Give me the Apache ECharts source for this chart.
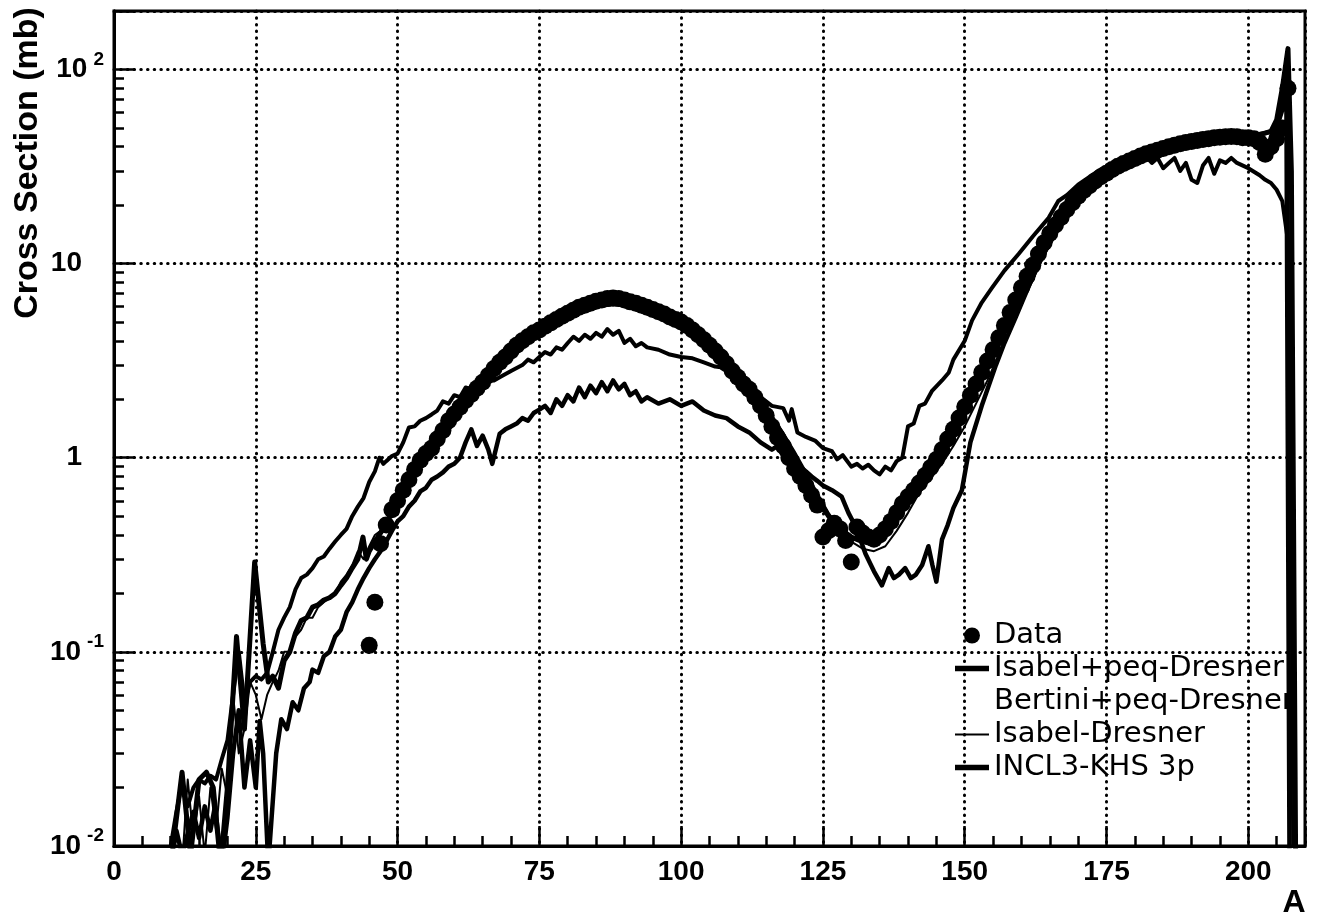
<!DOCTYPE html>
<html><head><meta charset="utf-8">
<script src="https://cdn.jsdelivr.net/npm/echarts@6/dist/echarts.min.js"></script>
<style>html,body{margin:0;padding:0;background:#fff}#c{width:1337px;height:919px}</style>
</head><body><div id="c"></div>
<script>
// ---- data (A, cross section in mb) ----
const seriesNames = ['Data', 'Isabel+peq-Dresner', 'Bertini+peq-Dresner', 'Isabel-Dresner', 'INCL3-KHS 3p'];

const measured = [[45,0.108],[46,0.18],[47,0.36],[48,0.45],[49,0.54],[50,0.6],[51,0.68],[52,0.77],[53,0.87],[54,0.97],[55,1.05],[56,1.12],[57,1.25],[58,1.38],[59,1.55],[60,1.68],[61,1.82],[62,1.97],[63,2.12],[64,2.28],[65,2.45],[66,2.65],[67,2.88],[68,3.1],[69,3.3],[70,3.55],[71,3.8],[72,4.0],[73,4.2],[74,4.4],[75,4.55],[76,4.75],[77,4.95],[78,5.15],[79,5.35],[80,5.55],[81,5.75],[82,5.95],[83,6.1],[84,6.25],[85,6.4],[86,6.5],[87,6.6],[88,6.65],[89,6.6],[90,6.5],[91,6.35],[92,6.25],[93,6.1],[94,5.95],[95,5.8],[96,5.65],[97,5.5],[98,5.3],[99,5.15],[100,5.0],[101,4.8],[102,4.55],[103,4.3],[104,4.05],[105,3.8],[106,3.55],[107,3.3],[108,3.05],[109,2.8],[110,2.6],[111,2.4],[112,2.25],[113,2.05],[114,1.85],[115,1.65],[116,1.45],[117,1.27],[118,1.15],[119,1.0],[120,0.88],[121,0.8],[122,0.72],[123,0.64],[124,0.57],[125,0.39],[126,0.42],[127,0.46],[128,0.43],[129,0.375],[130,0.29],[131,0.44],[132,0.41],[133,0.39],[134,0.38],[135,0.4],[136,0.43],[137,0.47],[138,0.52],[139,0.58],[140,0.63],[141,0.68],[142,0.74],[143,0.81],[144,0.89],[145,0.98],[146,1.1],[147,1.25],[148,1.4],[149,1.6],[150,1.83],[151,2.1],[152,2.4],[153,2.75],[154,3.15],[155,3.6],[156,4.15],[157,4.8],[158,5.6],[159,6.5],[160,7.5],[161,8.6],[162,9.8],[163,11.2],[164,12.8],[165,14.3],[166,15.8],[167,17.3],[168,19],[169,20.6],[170,22.2],[171,23.8],[172,25.2],[173,26.6],[174,28],[175,29.2],[176,30.5],[177,31.7],[178,32.8],[179,33.8],[180,34.8],[181,35.8],[182,36.8],[183,37.6],[184,38.4],[185,39.2],[186,40],[187,40.7],[188,41.4],[189,42],[190,42.6],[191,43.1],[192,43.6],[193,44],[194,44.5],[195,44.8],[196,45],[197,45.2],[198,45],[199,44.5],[200,44.5],[201,44],[202,42],[203,36.6],[204,40],[205,44],[206,50],[207,80]];

const isabelPeq = [[10,0.008],[12,0.024],[13.5,0.009],[15,0.022],[16.3,0.024],[17.5,0.02],[18.8,0.008],[20,0.02],[21.6,0.12],[23,0.04],[24.8,0.29],[26.3,0.11],[27.2,0.07],[28,0.075],[29,0.065],[30,0.09],[31,0.1],[32,0.125],[33,0.145],[34,0.15],[35,0.17],[36,0.175],[37,0.185],[38,0.19],[39,0.2],[40,0.22],[41,0.24],[42,0.27],[43,0.3],[43.9,0.39],[44.5,0.3],[45,0.33],[46,0.37],[47,0.41],[48,0.46],[49,0.52],[50,0.58],[51,0.66],[52,0.76],[53,0.84],[54,0.92],[55,1.0],[56,1.08],[57,1.2],[58,1.35],[59,1.48],[60,1.62],[62,1.95],[64,2.3],[66,2.7],[68,3.1],[70,3.55],[72,4.0],[74,4.45],[76,4.85],[78,5.25],[80,5.65],[82,6.05],[84,6.4],[86,6.7],[88,6.85],[90,6.8],[92,6.55],[94,6.2],[96,5.85],[98,5.45],[100,5.1],[102,4.65],[104,4.15],[106,3.65],[108,3.2],[110,2.75],[112,2.35],[114,1.95],[116,1.6],[118,1.3],[120,1.02],[122,0.8],[124,0.62],[126,0.5],[128,0.43],[130,0.39],[132,0.37],[134,0.37],[136,0.41],[138,0.49],[140,0.59],[142,0.71],[144,0.86],[146,1.05],[148,1.3],[150,1.68],[152,2.2],[154,2.9],[156,3.9],[158,5.1],[160,6.7],[162,8.8],[164,11.4],[166,14.5],[168,18],[170,21.6],[172,24.9],[174,27.9],[176,30.6],[178,32.9],[180,34.9],[182,36.7],[184,38.3],[186,39.8],[188,41.1],[190,42.3],[192,43.3],[194,44.1],[196,44.8],[198,45.3],[200,45.6],[202,46.2],[204,48],[205,55],[206,80],[207,128],[207.6,30],[208.4,0.005]];

const bertiniPeq = [[9,0.008],[10,0.01],[11,0.015],[12,0.021],[13,0.016],[14,0.02],[15,0.022],[16,0.021],[17,0.023],[18,0.022],[19,0.028],[20,0.035],[21,0.06],[22,0.1],[23,0.055],[24,0.07],[25,0.075],[26,0.072],[27,0.078],[28,0.1],[29,0.13],[30,0.15],[31,0.17],[32,0.21],[33,0.24],[34,0.25],[35,0.27],[36,0.3],[37,0.31],[38,0.34],[39,0.37],[40,0.4],[41,0.43],[42,0.5],[43,0.56],[44,0.62],[45,0.75],[46,0.85],[46.8,1.0],[47.5,0.93],[48,0.96],[49,1.02],[50,1.05],[51,1.2],[52,1.43],[53,1.45],[54,1.55],[55,1.6],[56,1.67],[57,1.75],[58,1.95],[59,1.9],[60,2.1],[61,2.05],[62,2.3],[63,2.25],[64,2.45],[65,2.4],[66,2.55],[67,2.5],[68,2.6],[70,2.8],[72,3.0],[73,3.2],[74,3.1],[75,3.3],[76,3.5],[77,3.4],[78,3.7],[79,3.6],[80,3.9],[81,4.2],[82,4.0],[83,4.3],[84,4.1],[85,4.4],[86,4.2],[87,4.6],[88,4.3],[89,4.5],[90,3.9],[91,4.1],[92,3.75],[93,3.9],[94,3.7],[96,3.6],[98,3.4],[100,3.3],[102,3.25],[104,3.1],[106,2.95],[108,2.9],[110,2.7],[112,2.3],[114,2.05],[116,1.85],[118,1.8],[119,1.55],[119.5,1.78],[120.5,1.35],[122,1.28],[123.7,1.22],[125,1.12],[126.6,1.08],[127.5,0.98],[128.5,1.03],[130,0.9],[131,0.93],[132,0.88],[133,0.92],[134,0.86],[135,0.82],[136,0.9],[137,0.86],[138,0.96],[139,1.0],[140,1.45],[141,1.5],[142,1.85],[143,1.9],[144.2,2.2],[146,2.5],[147.2,2.75],[148,3.2],[150,4.0],[151.3,5.1],[153,6.3],[154.8,7.5],[157,9.2],[159.5,11.2],[162,13.8],[164.8,17.2],[166.5,21],[168,22.5],[170,25.5],[172,28],[174,30.5],[176,32.5],[178,34],[180,35],[182,35.5],[183,33],[184,35],[185,31],[186,33],[187,35],[188,30],[189,33],[190,27],[191,26],[192,32],[193,35],[194,29],[195,34],[196,33],[197,35],[198,33],[200,31],[202,28.5],[203,27],[204,26],[205,24],[206,21],[207,13],[208.3,0.005]];

const isabelDresner = [[12,0.008],[13,0.022],[14,0.011],[15,0.018],[16,0.009],[17,0.02],[18,0.012],[19,0.025],[20,0.018],[21,0.06],[22,0.03],[23,0.04],[24,0.07],[25,0.06],[26,0.045],[27,0.06],[28,0.07],[29,0.08],[30,0.1],[31,0.1],[32,0.12],[33,0.13],[34,0.15],[35,0.15],[36,0.17],[37,0.18],[38,0.19],[39,0.2],[40,0.23],[41,0.25],[42,0.28],[43,0.33],[44,0.3],[45,0.35],[46,0.4],[47,0.42],[48,0.46],[50,0.56],[52,0.72],[54,0.9],[56,1.02],[58,1.25],[60,1.5],[62,1.8],[64,2.2],[66,2.6],[68,3.0],[70,3.45],[72,3.9],[74,4.3],[76,4.6],[78,4.9],[80,5.2],[82,5.55],[84,5.8],[86,6.0],[88,6.1],[90,6.05],[92,5.9],[94,5.7],[96,5.5],[98,5.2],[100,4.9],[102,4.5],[104,4.05],[106,3.65],[108,3.2],[110,2.8],[112,2.4],[114,2.0],[116,1.65],[118,1.35],[120,1.08],[122,0.85],[124,0.66],[126,0.52],[128,0.43],[130,0.37],[132,0.34],[134,0.33],[136,0.35],[138,0.42],[140,0.52],[142,0.66],[144,0.78],[146,0.93],[148,1.15],[150,1.45],[152,1.9],[154,2.5],[156,3.4],[158,4.6],[160,6.2],[162,8.2],[164,11],[166,14],[168,17.5],[170,21],[172,24.5],[174,27.5],[176,30],[178,32.3],[180,34.3],[182,36],[184,37.5],[186,39],[188,40.2],[190,41.5],[192,42.5],[194,43.3],[196,44],[198,44],[200,43],[201,41],[202,38],[203,35],[204,37],[205,43],[206,70],[207,110],[207.8,0.005]];

const inclKhs = [[10,0.008],[11,0.012],[12,0.009],[14,0.015],[15,0.011],[16,0.016],[17,0.012],[17.8,0.016],[19,0.008],[20,0.014],[21,0.03],[22,0.05],[23,0.02],[24,0.035],[25,0.02],[25.7,0.044],[26.3,0.03],[27.2,0.008],[28.6,0.03],[29.5,0.045],[30.5,0.04],[31.5,0.055],[32.5,0.05],[33.5,0.065],[34.5,0.07],[35,0.081],[36,0.078],[37,0.095],[38,0.1],[39,0.12],[40,0.13],[41,0.16],[42,0.18],[43,0.21],[44,0.24],[45,0.27],[46,0.3],[47,0.33],[48,0.37],[49,0.42],[50,0.47],[51,0.5],[52,0.56],[53,0.6],[54,0.67],[55,0.7],[56,0.77],[57,0.8],[58,0.84],[59,0.9],[60,0.93],[61,1.0],[62,1.2],[63,1.4],[64,1.15],[65,1.3],[66,1.1],[66.7,0.93],[68,1.33],[69,1.4],[70,1.45],[71,1.5],[72,1.6],[73,1.55],[74,1.7],[75,1.77],[76,1.85],[77,1.7],[78,2.0],[79,1.85],[80,2.1],[81,1.95],[82,2.3],[83,2.05],[84,2.35],[85,2.15],[86,2.45],[87,2.2],[88,2.5],[89,2.25],[90,2.4],[91,2.1],[92,2.2],[93,1.95],[94,2.05],[96,1.9],[98,2.0],[100,1.85],[102,1.95],[104,1.75],[106,1.65],[108,1.6],[110,1.45],[112,1.35],[114,1.2],[116,1.1],[117,1.15],[118,1.02],[119,1.05],[120,0.95],[121,0.9],[122,0.85],[123,0.8],[124,0.76],[125,0.72],[126.6,0.68],[128.3,0.63],[129.5,0.52],[130.8,0.44],[132.5,0.32],[134,0.26],[135.4,0.22],[136.6,0.27],[137.5,0.24],[138.4,0.25],[139.5,0.27],[140.5,0.24],[141.4,0.25],[142.5,0.28],[143.6,0.35],[144.3,0.28],[145,0.23],[146,0.38],[147,0.45],[148,0.55],[149.5,0.68],[151,1.2],[153,1.85],[155.5,3.0],[157,3.9],[159,5.3],[161,7.3],[163,10],[165,13],[167,16.5],[169,20],[171,23.5],[173,26.5],[175,29],[177,31],[179,32.8],[181,34.5],[183,36.5],[185,38.5],[187,40],[189,41.5],[191,42.5],[193,43.5],[195,44.5],[197,45.2],[199,45.6],[201,46],[203,47],[204,48],[205,50],[206,62],[206.7,95],[207.3,0.005]];

// ---- axis ticks ----
const xMajorStep = 25;
const xMinorTicks = [5,10,15,20,30,35,40,45,55,60,65,70,80,85,90,95,105,110,115,120,130,135,140,145,155,160,165,170,180,185,190,195,205];
const yMinorTicks = [0.02,0.03,0.04,0.05,0.06,0.07,0.08,0.09,0.2,0.3,0.4,0.5,0.6,0.7,0.8,0.9,2,3,4,5,6,7,8,9,20,30,40,50,60,70,80,90];

const FONT = '"Liberation Sans", Arial, sans-serif';
const chart = echarts.init(document.getElementById('c'));
const dotted = { color: '#000', width: 3, type: [0.5, 6.2], cap: 'round' };
const tk = { color: '#000', width: 2.5 };

function lineSeries(name, data, width) {
  return { name, type: 'line', data, showSymbol: false, symbol: 'none', clip: true, progressive: 0,
    lineStyle: { color: '#000', width, join: 'round', cap: 'round' }, itemStyle: { color: '#000' }, z: 3 };
}

chart.setOption({
  animation: false,
  backgroundColor: '#fff',
  grid: { left: 114, right: 32, top: 11, bottom: 73, show: true, borderColor: '#000', borderWidth: 3 },
  xAxis: [{
    type: 'value', min: 0, max: 210, interval: xMajorStep, position: 'bottom', z: 5,
    axisLine: { lineStyle: { color: '#000', width: 3 } },
    axisTick: { show: true, inside: true, length: 20, lineStyle: tk },
    axisLabel: { margin: 12, color: '#000', fontFamily: FONT, fontWeight: 'bold', fontSize: 28,
      formatter: v => (v % xMajorStep === 0 ? String(v) : '') },
    splitLine: { show: true, lineStyle: dotted }
  }, {
    type: 'value', min: 0, max: 210, position: 'bottom', z: 5,
    axisLine: { show: false }, axisLabel: { show: false }, splitLine: { show: false },
    axisTick: { show: true, inside: true, length: 10, customValues: xMinorTicks, lineStyle: tk }
  }],
  yAxis: [{
    type: 'log', logBase: 10, min: 0.01, max: 200, position: 'left', z: 5,
    axisLine: { lineStyle: { color: '#000', width: 3 } },
    axisTick: { show: true, inside: true, length: 20, lineStyle: tk },
    axisLabel: {
      margin: 10, color: '#000',
      formatter: function (v) {
        const l = Math.log10(v), e = Math.round(l);
        if (Math.abs(l - e) > 1e-6) return '';
        if (e === 0) return '{p|1}';
        if (e === 1) return '{p|10}';
        return '{b|10}{s|' + e + '}';
      },
      rich: {
        p: { fontFamily: FONT, fontWeight: 'bold', fontSize: 28, color: '#000', padding: [0, 22, 0, 0] },
        b: { fontFamily: FONT, fontWeight: 'bold', fontSize: 28, color: '#000' },
        s: { fontFamily: FONT, fontWeight: 'bold', fontSize: 19, color: '#000', padding: [0, 0, 20, 6] }
      }
    },
    splitLine: { show: true, lineStyle: dotted }
  }, {
    type: 'log', logBase: 10, min: 0.01, max: 200, position: 'left', z: 5,
    axisLine: { show: false }, axisLabel: { show: false }, splitLine: { show: false },
    axisTick: { show: true, inside: true, length: 10, customValues: yMinorTicks, lineStyle: tk }
  }],
  legend: {
    orient: 'vertical', left: 955, top: 619, itemWidth: 34, itemHeight: 16, itemGap: 0,
    selectedMode: false, padding: 0,
    textStyle: { fontFamily: '"DejaVu Sans", sans-serif', fontSize: 29, color: '#000', lineHeight: 33 },
    data: [
      { name: seriesNames[0], icon: 'circle' },
      { name: seriesNames[1], icon: 'path://M0,0H32V5H0Z' },
      { name: seriesNames[2], icon: 'path://M0,0H32V5H0Z', itemStyle: { opacity: 0 } },
      { name: seriesNames[3], icon: 'path://M0,0H32V2H0Z' },
      { name: seriesNames[4], icon: 'path://M0,0H32V5H0Z' }
    ]
  },
  graphic: [
    { type: 'text', x: 28, y: 163, rotation: Math.PI / 2, silent: true,
      style: { text: 'Cross Section (mb)', font: 'bold 34px ' + FONT, fill: '#000', align: 'center', verticalAlign: 'middle' } },
    { type: 'text', x: 1294, y: 903, silent: true,
      style: { text: 'A', font: 'bold 32px ' + FONT, fill: '#000', align: 'center', verticalAlign: 'middle' } }
  ],
  series: [
    lineSeries(seriesNames[1], isabelPeq, 5),
    lineSeries(seriesNames[2], bertiniPeq, 4),
    lineSeries(seriesNames[3], isabelDresner, 2),
    lineSeries(seriesNames[4], inclKhs, 4.5),
    { name: seriesNames[0], type: 'scatter', data: measured, symbol: 'circle', symbolSize: 17, progressive: 0,
      itemStyle: { color: '#000', opacity: 1 }, z: 4 }
  ]
});
</script>
</body></html>
